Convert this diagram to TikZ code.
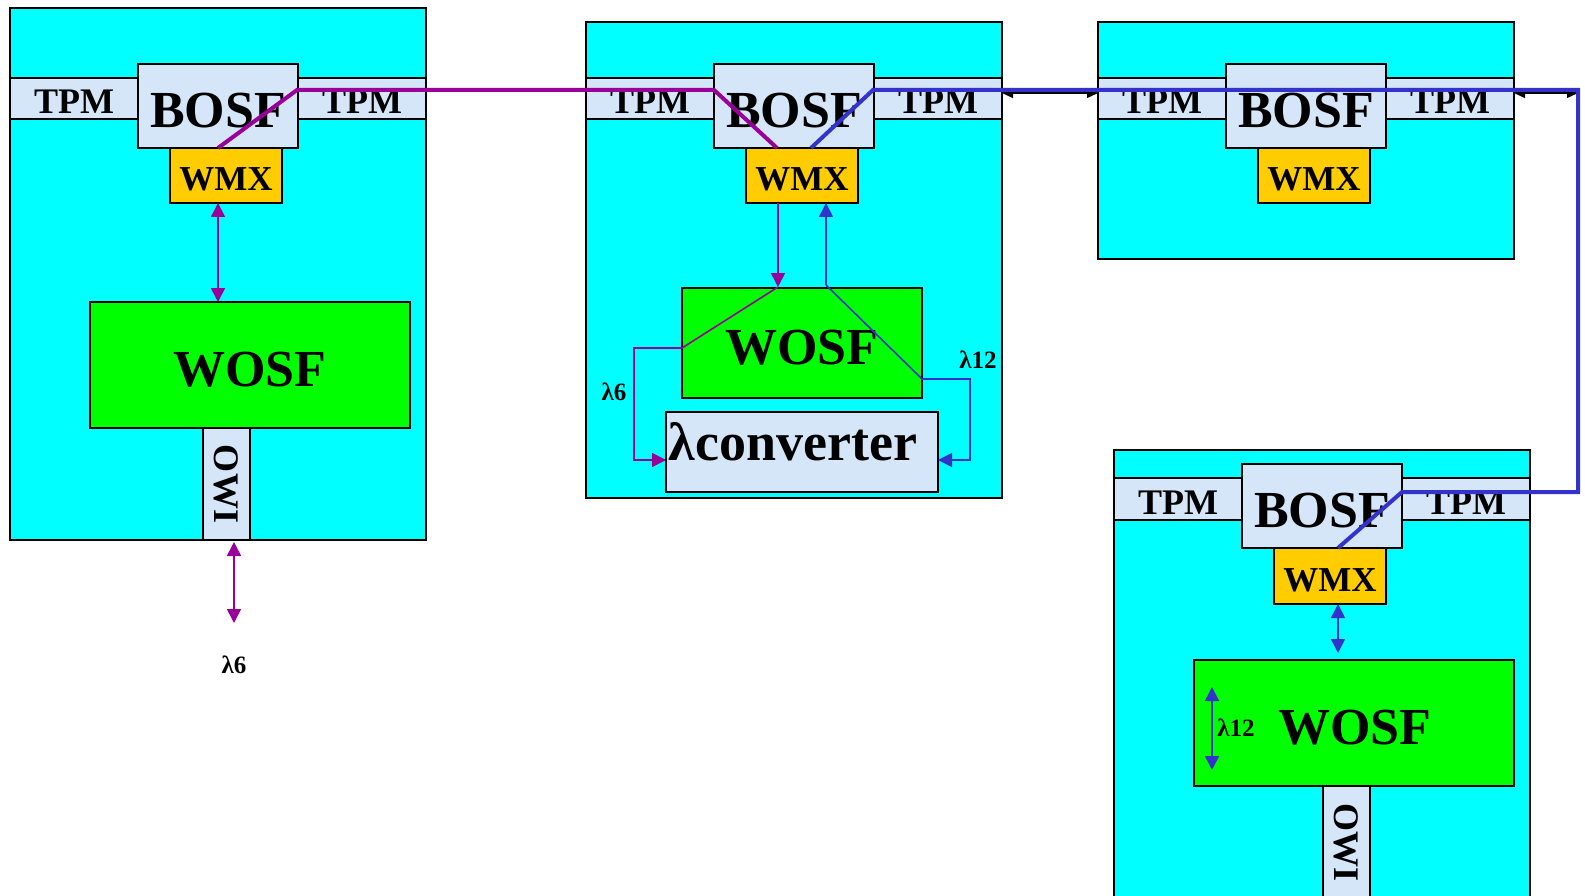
\documentclass[tikz,border=0pt]{standalone}
\usepackage{fontspec}
\setmainfont{Liberation Serif}
\usetikzlibrary{arrows.meta}
\definecolor{cyb}{HTML}{00FFFF}
\definecolor{lbl}{HTML}{D4E6F8}
\definecolor{wmxc}{HTML}{FFCC00}
\definecolor{grn}{HTML}{00FF00}
\definecolor{pur}{HTML}{990099}
\definecolor{blu}{HTML}{3333CC}
\tikzset{
  bx/.style={draw=black, line width=1.4pt, inner sep=0pt, outer sep=0pt, anchor=north west},
  outer/.style={bx, fill=cyb},
  tpm/.style={bx, fill=lbl, font=\fontsize{36}{36}\bfseries, text height=31pt, text depth=0pt},
  bosf/.style={bx, fill=lbl, font=\fontsize{52}{52}\bfseries, text height=43pt, text depth=0pt},
  wmx/.style={bx, fill=wmxc, font=\fontsize{35}{35}\bfseries, text height=30pt, text depth=0pt},
  wosf/.style={bx, fill=grn, font=\fontsize{52}{52}\bfseries, text height=43pt, text depth=0pt},
  owi/.style={bx, fill=lbl},
  owitxt/.style={font=\fontsize{36}{36}\bfseries, rotate=-90},
  lab/.style={font=\fontsize{25}{25}\bfseries, inner sep=0pt},
  tip/.style={-{Triangle[length=14pt,width=14pt]}},
  tips/.style={{Triangle[length=14pt,width=14pt]}-{Triangle[length=14pt,width=14pt]}},
  ktips/.style={{Triangle[length=11pt,width=10pt]}-{Triangle[length=11pt,width=10pt]}},
  thinp/.style={draw=pur, line width=1.6pt},
  thinb/.style={draw=blu, line width=1.6pt},
  thinb0/.style={draw=black, line width=1.2pt},
  thickp/.style={draw=pur, line width=4pt},
  thickb/.style={draw=blu, line width=4pt},
}
\begin{document}
\begin{tikzpicture}[x=1pt,y=-1pt]
\clip (0,0) rectangle (1585,896);
\fill[white] (0,0) rectangle (1585,896);

% ---------- Box 1 ----------
\node[outer, minimum width=416pt, minimum height=532pt] (box1) at (10,8) {};
\node[tpm, minimum width=128pt, minimum height=41pt] (tpm1l) at (10,78) {TPM};
\node[tpm, minimum width=128pt, minimum height=41pt] (tpm1r) at (298,78) {TPM};
\node[bosf, minimum width=160pt, minimum height=84pt] (bosf1) at (138,64) {BOSF};
\node[wmx, minimum width=112pt, minimum height=55pt] (wmx1) at (170,148) {WMX};
\node[wosf, minimum width=320pt, minimum height=126pt] (wosf1) at (90,302) {WOSF};
\node[owi, minimum width=47pt, minimum height=112pt] (owi1) at (203,428) {};
\node[owitxt] (owi1t) at (owi1.center) {OWI};

% ---------- Box 2 ----------
\node[outer, minimum width=416pt, minimum height=476pt] (box2) at (586,22) {};
\node[tpm, minimum width=128pt, minimum height=41pt] (tpm2l) at (586,78) {TPM};
\node[tpm, minimum width=128pt, minimum height=41pt] (tpm2r) at (874,78) {TPM};
\node[bosf, minimum width=160pt, minimum height=84pt] (bosf2) at (714,64) {BOSF};
\node[wmx, minimum width=112pt, minimum height=55pt] (wmx2) at (746,148) {WMX};
\node[wosf, minimum width=240pt, minimum height=110pt] (wosf2) at (682,288) {WOSF};
\node[bx, fill=lbl, minimum width=272pt, minimum height=80pt] (conv) at (666,412) {};
\node[font=\fontsize{54}{54}\bfseries, anchor=base, inner sep=0pt] (convt) at (793,460) {λconverter};

% ---------- Box 3 ----------
\node[outer, minimum width=416pt, minimum height=237pt] (box3) at (1098,22) {};
\node[tpm, minimum width=128pt, minimum height=41pt] (tpm3l) at (1098,78) {TPM};
\node[tpm, minimum width=128pt, minimum height=41pt] (tpm3r) at (1386,78) {TPM};
\node[bosf, minimum width=160pt, minimum height=84pt] (bosf3) at (1226,64) {BOSF};
\node[wmx, minimum width=112pt, minimum height=55pt] (wmx3) at (1258,148) {WMX};

% ---------- Box 4 ----------
\node[outer, minimum width=416pt, minimum height=460pt] (box4) at (1114,450) {};
\node[tpm, minimum width=128pt, minimum height=42pt] (tpm4l) at (1114,478) {TPM};
\node[tpm, minimum width=128pt, minimum height=42pt] (tpm4r) at (1402,478) {TPM};
\node[bosf, minimum width=160pt, minimum height=84pt] (bosf4) at (1242,464) {BOSF};
\node[wmx, minimum width=112pt, minimum height=56pt] (wmx4) at (1274,548) {WMX};
\node[wosf, minimum width=320pt, minimum height=126pt] (wosf4) at (1194,660) {};
\node[font=\fontsize{52}{52}\bfseries, inner sep=0pt] (wosf4t) at (1355,728) {WOSF};
\node[owi, minimum width=47pt, minimum height=112pt] (owi4) at (1323,786) {};
\node[owitxt] (owi4t) at (1346,842) {OWI};

% ---------- coordinates ----------
\coordinate (w1b) at (218,203);
\coordinate (wo1t) at (218,302);
\coordinate (o1b) at (234,542);
\coordinate (o1e) at (234,623);
\node[lab] (l6a) at (234,665) {λ6};

\coordinate (w2p) at (778,203);
\coordinate (wo2p) at (778,287);
\coordinate (p1) at (682,348);
\coordinate (p2) at (634,348);
\coordinate (p3) at (634,460);
\coordinate (w2b) at (826,203);
\coordinate (b0) at (826,285);
\coordinate (b1) at (922,379);
\coordinate (b2) at (970,379);
\coordinate (b3) at (970,460);
\node[lab] (l6b) at (614,392) {λ6};
\node[lab] (l12a) at (978,360) {λ12};

\coordinate (w4b) at (1338,604);
\coordinate (wo4t) at (1338,653);
\coordinate (la) at (1212,687);
\coordinate (lb) at (1212,770);
\node[lab] (l12b) at (1236,728) {λ12};

% thick path coordinates
\coordinate (pa) at (218,148);
\coordinate (pb) at (297,90);
\coordinate (pc) at (714,90);
\coordinate (pd) at (777,148);
\coordinate (qa) at (811,148);
\coordinate (qb) at (873,90);
\coordinate (qc) at (1578,90);
\coordinate (qd) at (1578,492);
\coordinate (qe) at (1402,492);
\coordinate (qf) at (1338,548);
% black arrows
\coordinate (ka) at (1002,93);
\coordinate (kb) at (1098,93);
\coordinate (kc) at (1514,93);
\coordinate (kd) at (1578,93);

% ---------- thin connectors ----------
\draw[thinp, tips] (w1b) -- (wo1t);
\draw[thinp, tips] (o1b) -- (o1e);

\draw[thinp, tip] (w2p) -- (wo2p);
\draw[thinp, tip] (wo2p) -- (p1) -- (p2) -- (p3) -- (p3 -| conv.west);
\draw[thinb, tip] (b0) -- (w2b);
\draw[thinb, tip] (b0) -- (b1) -- (b2) -- (b3) -- (b3 -| conv.east);

\draw[thinb, tips] (w4b) -- (wo4t);
\draw[thinb, tips] (la) -- (lb);

\draw[thinb0, ktips] (ka) -- (kb);
\draw[thinb0, ktips] (kc) -- (kd);

% ---------- thick lightpaths ----------
\draw[thickp] (pa) -- (pb) -- (pc) -- (pd);
\draw[thickb] (qa) -- (qb) -- (qc) -- (qd) -- (qe) -- (qf);
\end{tikzpicture}
\end{document}
